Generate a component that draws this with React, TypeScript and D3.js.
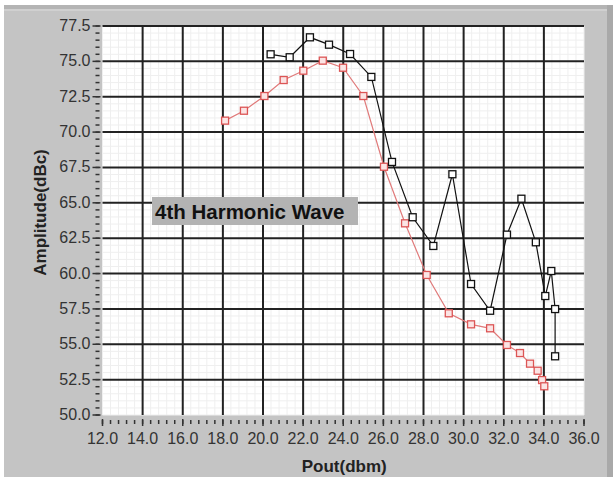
import React from "react";
import * as d3 from "d3";

const blackX = [20.38, 21.33, 22.34, 23.29, 24.34, 25.4, 26.43, 27.46, 28.49, 29.44, 30.37, 31.32, 32.16, 32.88, 33.6, 34.07, 34.37, 34.56, 34.56];
const blackY = [75.5, 75.29, 76.7, 76.18, 75.52, 73.9, 67.89, 63.98, 61.95, 67.02, 59.26, 57.37, 62.75, 65.29, 62.21, 58.41, 60.18, 57.49, 54.15];
const redX = [18.11, 19.05, 20.07, 21.03, 22.01, 22.98, 23.99, 25.0, 26.03, 27.08, 28.16, 29.26, 30.37, 31.32, 32.16, 32.81, 33.31, 33.69, 33.91, 34.02];
const redY = [70.81, 71.51, 72.55, 73.68, 74.34, 75.05, 74.55, 72.55, 67.55, 63.55, 59.9, 57.19, 56.41, 56.13, 54.95, 54.38, 53.63, 53.13, 52.47, 52.03];
const xTicks = [12, 14, 16, 18, 20, 22, 24, 26, 28, 30, 32, 34, 36];
const yTicks = [50, 52.5, 55, 57.5, 60, 62.5, 65, 67.5, 70, 72.5, 75, 77.5];
const xTitle = "Pout(dbm)";
const yTitle = "Amplitude(dBc)";
const annotation = "4th Harmonic Wave";

const W = 613, H = 477;
const L = 102.5, R = 584, T = 26, B = 415;

export default function App() {
  const x = d3.scaleLinear().domain([12, 36]).range([L, R]);
  const y = d3.scaleLinear().domain([50, 77.5]).range([B, T]);
  const xMinor = d3.range(12, 36.001, 0.4).map(v => +v.toFixed(2));
  const yMinor = d3.range(50, 77.501, 0.5).map(v => +v.toFixed(2));
  const line = d3.line<[number, number]>().x(d => x(d[0])).y(d => y(d[1]));
  const black = blackX.map((v, i) => [v, blackY[i]] as [number, number]);
  const red = redX.map((v, i) => [v, redY[i]] as [number, number]);
  const font = "'Liberation Sans', Arial, sans-serif";
  const ms = 7;
  return (
    <div style={{ position: "fixed", left: 0, top: 0 }}>
      <svg width={W} height={H} style={{ display: "block" }}>
        <rect x={0} y={0} width={W} height={H} fill="#ffffff" />
        <rect x={4} y={5} width={W - 4} height={H - 5} fill="#c4c4c4" />
        <rect x={4} y={5} width={W - 4} height={4} fill="#b4b4b4" />
        <rect x={4} y={9} width={W - 4} height={2} fill="#d0d0d0" />
        <rect x={607} y={5} width={6} height={H - 5} fill="#a9a9a9" />
        <rect x={L} y={T} width={R - L} height={B - T} fill="#ffffff" />
        {xMinor.map((v, i) => (
          <line key={"xm" + i} x1={x(v)} x2={x(v)} y1={T} y2={B} stroke="#efefef" strokeWidth={1} />
        ))}
        {yMinor.map((v, i) => (
          <line key={"ym" + i} x1={L} x2={R} y1={y(v)} y2={y(v)} stroke="#efefef" strokeWidth={1} />
        ))}
        {xTicks.slice(1, -1).map((v, i) => (
          <line key={"xg" + i} x1={x(v)} x2={x(v)} y1={T} y2={B} stroke="#222" strokeWidth={2} />
        ))}
        {yTicks.slice(1).map((v, i) => (
          <line key={"yg" + i} x1={L} x2={R} y1={y(v)} y2={y(v)} stroke="#222" strokeWidth={2} />
        ))}
        {yMinor.map((v, i) => (
          <line key={"yt" + i} x1={L - 7} x2={L - 3} y1={y(v)} y2={y(v)} stroke="#333" strokeWidth={1.5} />
        ))}
        {yTicks.map((v, i) => (
          <line key={"yT" + i} x1={L - 10} x2={L - 2} y1={y(v)} y2={y(v)} stroke="#333" strokeWidth={1.5} />
        ))}
        {xMinor.map((v, i) => (
          <line key={"xt" + i} x1={x(v)} x2={x(v)} y1={B + 5} y2={B + 9} stroke="#333" strokeWidth={1.5} />
        ))}
        {xTicks.map((v, i) => (
          <line key={"xT" + i} x1={x(v)} x2={x(v)} y1={B + 4} y2={B + 11} stroke="#333" strokeWidth={1.5} />
        ))}
        {yTicks.map((v, i) => (
          <text key={"yl" + i} x={L - 12} y={y(v) + 5} textAnchor="end" fontFamily={font} fontSize={16} fill="#333">
            {v.toFixed(1)}
          </text>
        ))}
        {xTicks.map((v, i) => (
          <text key={"xl" + i} x={x(v)} y={B + 29} textAnchor="middle" fontFamily={font} fontSize={16} fill="#333">
            {v.toFixed(1)}
          </text>
        ))}
        <text x={(L + R) / 2 + 1} y={472} textAnchor="middle" fontFamily={font} fontSize={17} fontWeight="bold" fill="#222">
          {xTitle}
        </text>
        <text transform={`translate(46, ${(T + B) / 2 - 8}) rotate(-90)`} textAnchor="middle" fontFamily={font} fontSize={17} fontWeight="bold" fill="#222">
          {yTitle}
        </text>
        <path d={line(red) || ""} fill="none" stroke="#e07a7a" strokeWidth={1.2} />
        {red.map((d, i) => (
          <rect key={"r" + i} x={x(d[0]) - ms / 2} y={y(d[1]) - ms / 2} width={ms} height={ms} fill="#fbe4e4" stroke="#dc5555" strokeWidth={1.3} />
        ))}
        <path d={line(black) || ""} fill="none" stroke="#111" strokeWidth={1.2} />
        {black.map((d, i) => (
          <rect key={"b" + i} x={x(d[0]) - ms / 2} y={y(d[1]) - ms / 2} width={ms} height={ms} fill="#ffffff" stroke="#111" strokeWidth={1.3} />
        ))}
        <rect x={152} y={197} width={206} height={28} fill="#b3b3b3" />
        <text x={155} y={219} fontFamily={font} fontSize={20.5} fontWeight="bold" fill="#111">
          {annotation}
        </text>
      </svg>
    </div>
  );
}
